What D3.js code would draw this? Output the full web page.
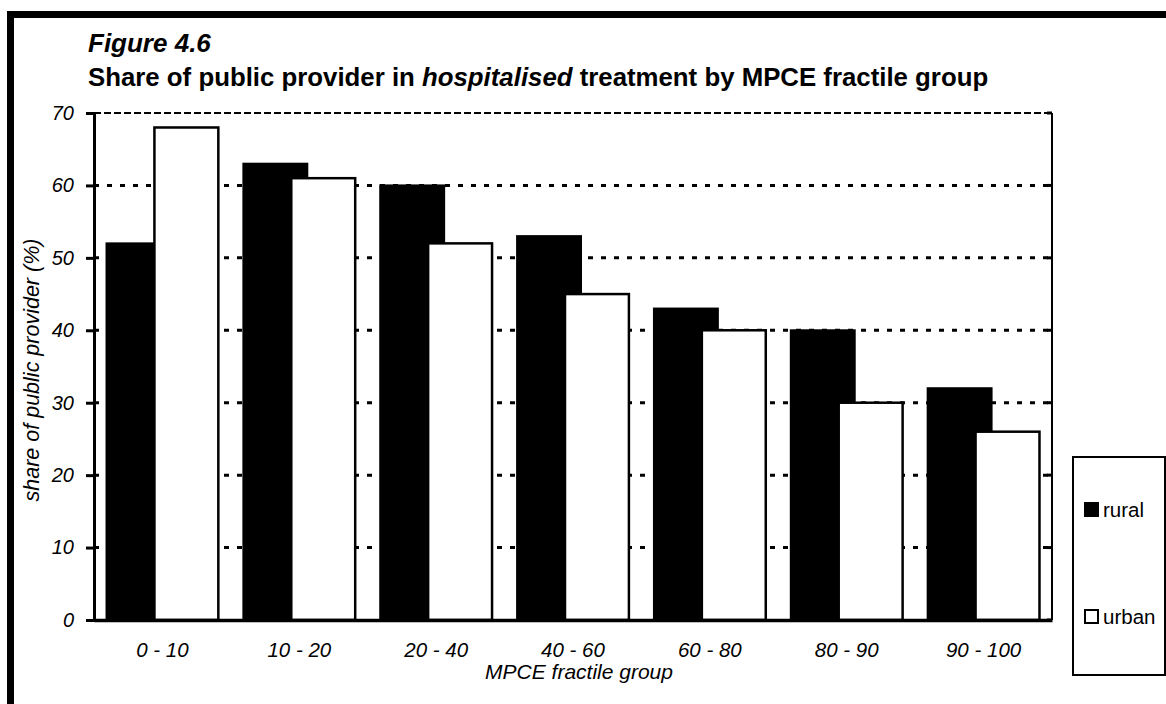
<!DOCTYPE html>
<html>
<head>
<meta charset="utf-8">
<script src="https://cdn.jsdelivr.net/npm/d3@7/dist/d3.min.js"></script>
<style>
  body { margin: 0; background: #fff; }
  text { font-family: "Liberation Sans", Arial, sans-serif; fill: #000; }
</style>
</head>
<body>
<script>
var groups = ["0 - 10", "10 - 20", "20 - 40", "40 - 60", "60 - 80", "80 - 90", "90 - 100"];
var rural = [52, 63, 60, 53, 43, 40, 32];
var urban = [68, 61, 52, 45, 40, 30, 26];
var yTicks = [0, 10, 20, 30, 40, 50, 60, 70];

var width = 1166, height = 704;
var plotL = 94, plotR = 1052, plotT = 113, plotB = 620;

var svg = d3.select("body").append("svg")
    .attr("width", width).attr("height", height);

// frame round the figure (right and bottom run off the page)
svg.append("rect")
    .attr("x", 10.5).attr("y", 14.5)
    .attr("width", 1300).attr("height", 900)
    .attr("fill", "none").attr("stroke", "#000").attr("stroke-width", 7);

svg.append("text").attr("x", 88).attr("y", 52)
    .style("font-size", "26px").style("font-weight", "bold").style("font-style", "italic")
    .text("Figure 4.6");

var sub = svg.append("text").attr("x", 88).attr("y", 86)
    .style("font-size", "25.8px").style("font-weight", "bold");
sub.append("tspan").text("Share of public provider in ");
sub.append("tspan").style("font-style", "italic").text("hospitalised");
sub.append("tspan").text(" treatment by MPCE fractile group");

var x = d3.scaleBand().domain(groups).range([plotL, plotR]);
var y = d3.scaleLinear().domain([0, 70]).range([plotB, plotT]);

var bw = x.bandwidth();
var barW = bw * 0.467, overlap = bw * 0.117;
function ruralX(d) { return x(d) + bw / 2 - (2 * barW - overlap) / 2; }

// grid lines
svg.append("g").selectAll("line")
    .data(yTicks.filter(function(d) { return d > 0 && d < 70; }))
    .enter().append("line")
    .attr("x1", plotL).attr("x2", plotR)
    .attr("y1", function(d) { return y(d); }).attr("y2", function(d) { return y(d); })
    .attr("stroke", "#000").attr("stroke-width", 3).attr("stroke-dasharray", "5,8");

svg.append("line")
    .attr("x1", plotL).attr("x2", plotR).attr("y1", y(70)).attr("y2", y(70))
    .attr("stroke", "#000").attr("stroke-width", 2).attr("stroke-dasharray", "7,3");

// bars
svg.append("g").selectAll("rect").data(groups).enter().append("rect")
    .attr("x", function(d) { return ruralX(d); })
    .attr("y", function(d, i) { return y(rural[i]); })
    .attr("width", barW)
    .attr("height", function(d, i) { return plotB - y(rural[i]); })
    .attr("fill", "#000").attr("stroke", "#000").attr("stroke-width", 2);

svg.append("g").selectAll("rect").data(groups).enter().append("rect")
    .attr("x", function(d) { return ruralX(d) + barW - overlap; })
    .attr("y", function(d, i) { return y(urban[i]); })
    .attr("width", barW)
    .attr("height", function(d, i) { return plotB - y(urban[i]); })
    .attr("fill", "#fff").attr("stroke", "#000").attr("stroke-width", 2.5);

// right border with inner ticks
svg.append("line").attr("x1", plotR).attr("x2", plotR).attr("y1", plotT).attr("y2", plotB)
    .attr("stroke", "#000").attr("stroke-width", 2);
svg.append("g").selectAll("line").data(yTicks).enter().append("line")
    .attr("x1", plotR - 5).attr("x2", plotR)
    .attr("y1", function(d) { return y(d); }).attr("y2", function(d) { return y(d); })
    .attr("stroke", "#000").attr("stroke-width", 3);

// y axis
var yAxis = svg.append("g").attr("transform", "translate(" + plotL + ",0)")
    .call(d3.axisLeft(y).tickValues(yTicks).tickSize(8).tickPadding(12));
yAxis.select(".domain").attr("stroke-width", 3);
yAxis.selectAll(".tick line").attr("stroke-width", 3);
yAxis.selectAll(".tick text")
    .style("font-size", "20px").style("font-style", "italic")
    .style("font-family", "'Liberation Sans', Arial, sans-serif");

// x axis
var xAxis = svg.append("g").attr("transform", "translate(0," + plotB + ")")
    .call(d3.axisBottom(x).tickSize(0).tickPadding(22));
xAxis.select(".domain").attr("stroke-width", 3.5);
xAxis.selectAll(".tick text")
    .style("font-size", "20.5px").style("font-style", "italic")
    .style("font-family", "'Liberation Sans', Arial, sans-serif");

svg.append("text").attr("x", (plotL + plotR) / 2 + 6).attr("y", 679)
    .attr("text-anchor", "middle")
    .style("font-size", "21px").style("font-style", "italic")
    .text("MPCE fractile group");

svg.append("text")
    .attr("transform", "translate(39,370) rotate(-90)")
    .attr("text-anchor", "middle")
    .style("font-size", "21.5px").style("font-style", "italic")
    .text("share of public provider (%)");

// legend
var legend = svg.append("g");
legend.append("rect").attr("x", 1073).attr("y", 457).attr("width", 92).attr("height", 218)
    .attr("fill", "#fff").attr("stroke", "#000").attr("stroke-width", 2);
var series = [{ name: "rural", fill: "#000", y: 503 }, { name: "urban", fill: "#fff", y: 610 }];
series.forEach(function(s) {
  legend.append("rect").attr("x", 1085).attr("y", s.y).attr("width", 13).attr("height", 13)
      .attr("fill", s.fill).attr("stroke", "#000").attr("stroke-width", 2);
  legend.append("text").attr("x", 1103).attr("y", s.y + 14)
      .style("font-size", "20.5px").text(s.name);
});
</script>
</body>
</html>
